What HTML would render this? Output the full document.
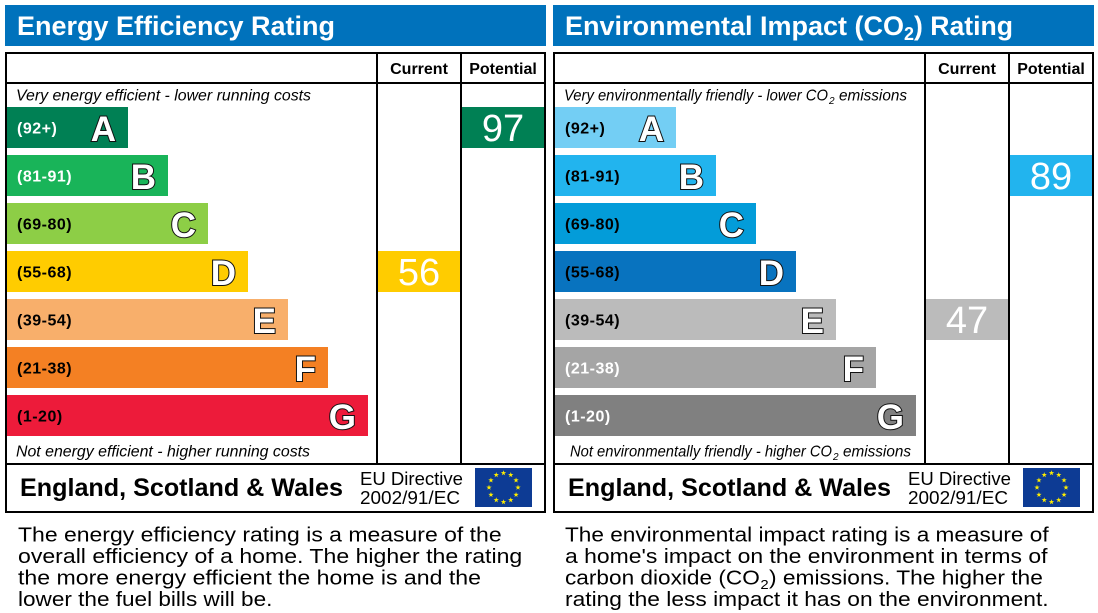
<!DOCTYPE html>
<html><head><meta charset="utf-8"><style>
html,body{margin:0;padding:0;background:#fff;}
svg{display:block;}
text{font-family:"Liberation Sans",Arial,sans-serif;}
.t{font-size:27px;font-weight:bold;fill:#fff;}
.h{font-size:16px;font-weight:bold;fill:#000;text-anchor:middle;}
.i{font-size:15.5px;font-style:italic;fill:#000;}
.lb{font-size:16px;font-weight:bold;letter-spacing:0.5px;}
.L{font-size:35px;font-weight:bold;fill:#fff;stroke:#111;stroke-width:2;paint-order:stroke;text-anchor:end;}
.v{font-size:38px;fill:#fff;text-anchor:middle;}
.f{font-size:25px;font-weight:bold;fill:#000;}
.eu{font-size:18.5px;fill:#000;}
.d{font-size:20px;fill:#000;}
</style></head><body>
<svg width="1098" height="613" viewBox="0 0 1098 613" xmlns="http://www.w3.org/2000/svg">
<defs>
<polygon id="s" fill="#ffed00" points="0,-2.8 0.647,-0.89 2.663,-0.865 1.046,0.34 1.646,2.265 0,1.1 -1.646,2.265 -1.046,0.34 -2.663,-0.865 -0.647,-0.89"/>
</defs>

<!-- LEFT PANEL -->
<rect x="5" y="5" width="541" height="41" fill="#0072bc"/>
<text class="t" x="17" y="35" textLength="318" lengthAdjust="spacingAndGlyphs">Energy Efficiency Rating</text>

<rect x="6" y="53" width="539" height="459" fill="none" stroke="#000" stroke-width="2"/>
<line x1="5" y1="83" x2="546" y2="83" stroke="#000" stroke-width="2"/>
<line x1="377" y1="53" x2="377" y2="464" stroke="#000" stroke-width="2"/>
<line x1="461" y1="53" x2="461" y2="464" stroke="#000" stroke-width="2"/>
<line x1="5" y1="464" x2="546" y2="464" stroke="#000" stroke-width="2"/>
<text class="h" x="419" y="74">Current</text>
<text class="h" x="503" y="74">Potential</text>

<text class="i" x="16" y="100.5" textLength="295" lengthAdjust="spacingAndGlyphs">Very energy efficient - lower running costs</text>

<rect x="7" y="107" width="121" height="41" fill="#008054"/>
<rect x="7" y="155" width="161" height="41" fill="#19b459"/>
<rect x="7" y="203" width="201" height="41" fill="#8dce46"/>
<rect x="7" y="251" width="241" height="41" fill="#ffcc00"/>
<rect x="7" y="299" width="281" height="41" fill="#f8af6b"/>
<rect x="7" y="347" width="321" height="41" fill="#f48023"/>
<rect x="7" y="395" width="361" height="41" fill="#ed1b3a"/>

<text class="lb" x="17" y="133.5" fill="#fff">(92+)</text>
<text class="lb" x="17" y="181.5" fill="#fff">(81-91)</text>
<text class="lb" x="17" y="229.5" fill="#000">(69-80)</text>
<text class="lb" x="17" y="277.5" fill="#000">(55-68)</text>
<text class="lb" x="17" y="325.5" fill="#000">(39-54)</text>
<text class="lb" x="17" y="373.5" fill="#000">(21-38)</text>
<text class="lb" x="17" y="421.5" fill="#000">(1-20)</text>

<text class="L" x="116" y="141">A</text>
<text class="L" x="156" y="189">B</text>
<text class="L" x="196" y="237">C</text>
<text class="L" x="236" y="285">D</text>
<text class="L" x="276" y="333">E</text>
<text class="L" x="316" y="381">F</text>
<text class="L" x="356" y="429">G</text>

<text class="i" x="16" y="456.5" textLength="294" lengthAdjust="spacingAndGlyphs">Not energy efficient - higher running costs</text>

<rect x="378" y="251" width="82" height="41" fill="#ffcc00"/>
<text class="v" x="419" y="285">56</text>
<rect x="462" y="107" width="82" height="41" fill="#008054"/>
<text class="v" x="503" y="141">97</text>

<text class="f" x="20" y="496" textLength="323" lengthAdjust="spacingAndGlyphs">England, Scotland &amp; Wales</text>
<text class="eu" x="360" y="485" textLength="103" lengthAdjust="spacingAndGlyphs">EU Directive</text>
<text class="eu" x="360" y="504" textLength="100" lengthAdjust="spacingAndGlyphs">2002/91/EC</text>
<rect x="475" y="468" width="57" height="39" fill="#0d3b94"/>
<g transform="translate(503.5,487.5)">
<use href="#s" x="0" y="-14.5"/><use href="#s" x="7.25" y="-12.56"/><use href="#s" x="12.56" y="-7.25"/>
<use href="#s" x="14.5" y="0"/><use href="#s" x="12.56" y="7.25"/><use href="#s" x="7.25" y="12.56"/>
<use href="#s" x="0" y="14.5"/><use href="#s" x="-7.25" y="12.56"/><use href="#s" x="-12.56" y="7.25"/>
<use href="#s" x="-14.5" y="0"/><use href="#s" x="-12.56" y="-7.25"/><use href="#s" x="-7.25" y="-12.56"/>
</g>

<g transform="translate(18,0) scale(1.146,1)">
<text class="d" x="0" y="541.5" textLength="422" lengthAdjust="spacingAndGlyphs">The energy efficiency rating is a measure of the</text>
<text class="d" x="0" y="563" textLength="440" lengthAdjust="spacingAndGlyphs">overall efficiency of a home. The higher the rating</text>
<text class="d" x="0" y="584.5" textLength="404" lengthAdjust="spacingAndGlyphs">the more energy efficient the home is and the</text>
<text class="d" x="0" y="606" textLength="222" lengthAdjust="spacingAndGlyphs">lower the fuel bills will be.</text>
</g>

<!-- RIGHT PANEL -->
<rect x="553" y="5" width="541" height="41" fill="#0072bc"/>
<text class="t" x="565" y="35" textLength="339" lengthAdjust="spacingAndGlyphs">Environmental Impact (CO</text>
<text class="t" x="904" y="40" style="font-size:18px">2</text>
<text class="t" x="914" y="35" textLength="99" lengthAdjust="spacingAndGlyphs">) Rating</text>

<rect x="554" y="53" width="539" height="459" fill="none" stroke="#000" stroke-width="2"/>
<line x1="553" y1="83" x2="1094" y2="83" stroke="#000" stroke-width="2"/>
<line x1="925" y1="53" x2="925" y2="464" stroke="#000" stroke-width="2"/>
<line x1="1009" y1="53" x2="1009" y2="464" stroke="#000" stroke-width="2"/>
<line x1="553" y1="464" x2="1094" y2="464" stroke="#000" stroke-width="2"/>
<text class="h" x="967" y="74">Current</text>
<text class="h" x="1051" y="74">Potential</text>

<text class="i" x="564" y="100.5" textLength="264" lengthAdjust="spacingAndGlyphs">Very environmentally friendly - lower CO</text>
<text class="i" x="829" y="104" style="font-size:10px">2</text>
<text class="i" x="839" y="100.5" textLength="68" lengthAdjust="spacingAndGlyphs">emissions</text>

<rect x="555" y="107" width="121" height="41" fill="#73cef4"/>
<rect x="555" y="155" width="161" height="41" fill="#22b4ee"/>
<rect x="555" y="203" width="201" height="41" fill="#039cd9"/>
<rect x="555" y="251" width="241" height="41" fill="#0873bf"/>
<rect x="555" y="299" width="281" height="41" fill="#bbbbbb"/>
<rect x="555" y="347" width="321" height="41" fill="#a5a5a5"/>
<rect x="555" y="395" width="361" height="41" fill="#808080"/>

<text class="lb" x="565" y="133.5" fill="#000">(92+)</text>
<text class="lb" x="565" y="181.5" fill="#000">(81-91)</text>
<text class="lb" x="565" y="229.5" fill="#000">(69-80)</text>
<text class="lb" x="565" y="277.5" fill="#000">(55-68)</text>
<text class="lb" x="565" y="325.5" fill="#000">(39-54)</text>
<text class="lb" x="565" y="373.5" fill="#fff">(21-38)</text>
<text class="lb" x="565" y="421.5" fill="#fff">(1-20)</text>

<text class="L" x="664" y="141">A</text>
<text class="L" x="704" y="189">B</text>
<text class="L" x="744" y="237">C</text>
<text class="L" x="784" y="285">D</text>
<text class="L" x="824" y="333">E</text>
<text class="L" x="864" y="381">F</text>
<text class="L" x="904" y="429">G</text>

<text class="i" x="570" y="456.5" textLength="262" lengthAdjust="spacingAndGlyphs">Not environmentally friendly - higher CO</text>
<text class="i" x="833" y="460" style="font-size:10px">2</text>
<text class="i" x="843" y="456.5" textLength="68" lengthAdjust="spacingAndGlyphs">emissions</text>

<rect x="926" y="299" width="82" height="41" fill="#bbbbbb"/>
<text class="v" x="967" y="333">47</text>
<rect x="1010" y="155" width="82" height="41" fill="#22b4ee"/>
<text class="v" x="1051" y="189">89</text>

<text class="f" x="568" y="496" textLength="323" lengthAdjust="spacingAndGlyphs">England, Scotland &amp; Wales</text>
<text class="eu" x="908" y="485" textLength="103" lengthAdjust="spacingAndGlyphs">EU Directive</text>
<text class="eu" x="908" y="504" textLength="100" lengthAdjust="spacingAndGlyphs">2002/91/EC</text>
<rect x="1023" y="468" width="57" height="39" fill="#0d3b94"/>
<g transform="translate(1051.5,487.5)">
<use href="#s" x="0" y="-14.5"/><use href="#s" x="7.25" y="-12.56"/><use href="#s" x="12.56" y="-7.25"/>
<use href="#s" x="14.5" y="0"/><use href="#s" x="12.56" y="7.25"/><use href="#s" x="7.25" y="12.56"/>
<use href="#s" x="0" y="14.5"/><use href="#s" x="-7.25" y="12.56"/><use href="#s" x="-12.56" y="7.25"/>
<use href="#s" x="-14.5" y="0"/><use href="#s" x="-12.56" y="-7.25"/><use href="#s" x="-7.25" y="-12.56"/>
</g>

<g transform="translate(565,0) scale(1.146,1)">
<text class="d" x="0" y="541.5" textLength="422" lengthAdjust="spacingAndGlyphs">The environmental impact rating is a measure of</text>
<text class="d" x="0" y="563" textLength="421" lengthAdjust="spacingAndGlyphs">a home's impact on the environment in terms of</text>
<text class="d" x="0" y="584.5" textLength="170" lengthAdjust="spacingAndGlyphs">carbon dioxide (CO</text>
<text class="d" x="170.5" y="589" style="font-size:13px">2</text>
<text class="d" x="178" y="584.5" textLength="239" lengthAdjust="spacingAndGlyphs">) emissions. The higher the</text>
<text class="d" x="0" y="606" textLength="422" lengthAdjust="spacingAndGlyphs">rating the less impact it has on the environment.</text>
</g>
</svg>
</body></html>
